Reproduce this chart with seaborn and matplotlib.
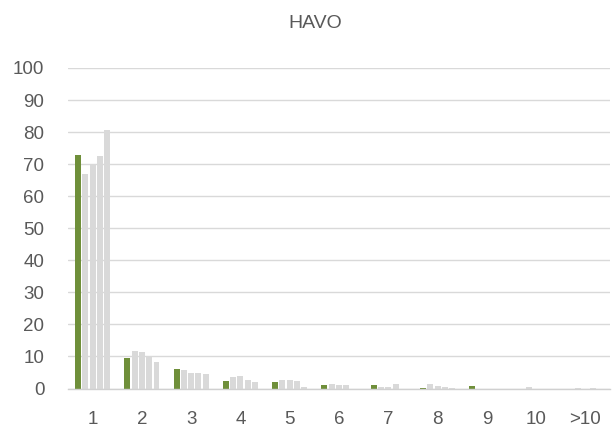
import matplotlib
matplotlib.use("Agg")
import matplotlib.pyplot as plt
import seaborn as sns
import pandas as pd

categories = ["1", "2", "3", "4", "5", "6", "7", "8", "9", "10", ">10"]
series_names = ["Serie 1", "Serie 2", "Serie 3", "Serie 4", "Serie 5"]
serie1 = [73.0, 9.4, 6.2, 2.2, 2.0, 1.0, 1.0, 0.1, 0.7, 0.0, 0.0]
serie2 = [66.9, 11.7, 5.8, 3.7, 2.7, 1.4, 0.6, 1.3, 0.0, 0.6, 0.3]
serie3 = [69.6, 11.3, 4.7, 4.0, 2.7, 1.0, 0.4, 0.9, 0.0, 0.0, 0.0]
serie4 = [72.4, 10.2, 4.7, 2.8, 2.2, 1.0, 1.3, 0.4, 0.0, 0.0, 0.3]
serie5 = [80.5, 8.2, 4.6, 1.9, 0.6, 0.0, 0.0, 0.1, 0.0, 0.0, 0.0]
title = "HAVO"
yticks = [0, 10, 20, 30, 40, 50, 60, 70, 80, 90, 100]

green = "#6f8f3a"
grey = "#d9d9d9"
palette = {series_names[0]: green}
for s in series_names[1:]:
    palette[s] = grey

rows = []
for name, vals in zip(series_names, [serie1, serie2, serie3, serie4, serie5]):
    for c, v in zip(categories, vals):
        rows.append({"cat": c, "serie": name, "value": v})
df = pd.DataFrame(rows)

sns.set_theme(style="white")
plt.rcParams["font.family"] = ["Liberation Sans", "DejaVu Sans"]

fig = plt.figure(figsize=(6.12, 4.33), dpi=100)
ax = fig.add_axes([68 / 612, 1 - 388.5 / 433, 542 / 612, 320.5 / 433])

sns.barplot(data=df, x="cat", y="value", hue="serie", order=categories,
            hue_order=series_names, palette=palette, width=0.74, gap=0.18,
            saturation=1, legend=False, ax=ax, linewidth=0, errorbar=None)

ax.set_ylim(0, 100)
ax.set_xlim(-0.5, len(categories) - 0.5)
ax.set_yticks(yticks)
ax.set_yticklabels([str(t) for t in yticks])
ax.yaxis.grid(True, color="#d9d9d9", linewidth=1.0)
ax.set_axisbelow(True)
for s in ["left", "right", "top"]:
    ax.spines[s].set_visible(False)
ax.spines["bottom"].set_color("#d0d0d0")
ax.spines["bottom"].set_linewidth(1.0)
ax.set_xlabel("")
ax.set_ylabel("")
ax.tick_params(axis="both", length=0, labelsize=13.5, colors="#595959")
ax.tick_params(axis="x", pad=16)
ax.tick_params(axis="y", pad=17)

fig.text(315 / 612, 1 - 24 / 433, title, ha="center", va="center",
         fontsize=14, color="#595959")

fig.savefig("out.png", dpi=100)
